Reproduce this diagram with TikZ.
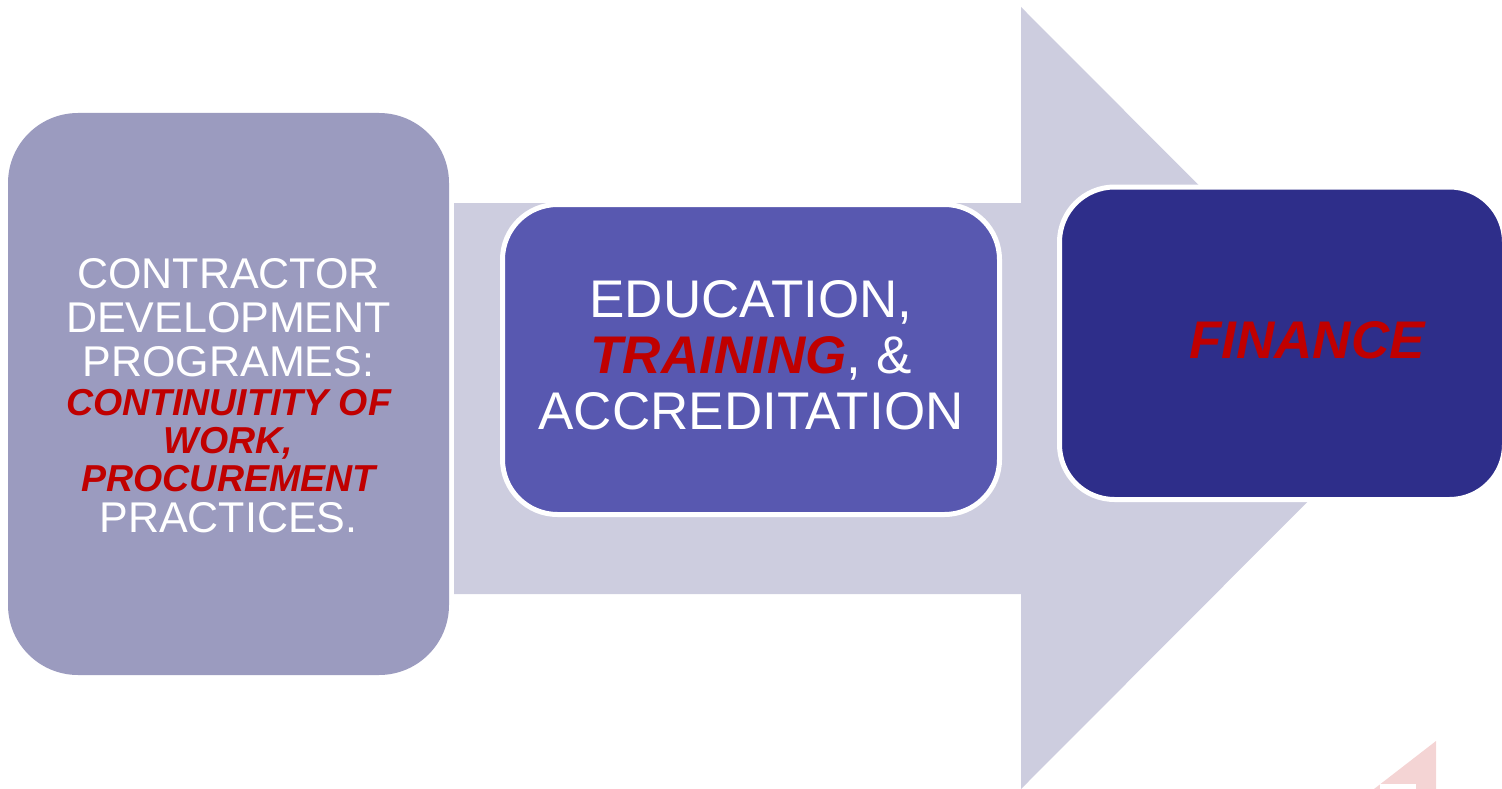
\documentclass[tikz,border=0pt]{standalone}
\usepackage{fontspec}
\setmainfont{Liberation Sans}
\definecolor{arrowc}{HTML}{CDCDDF}
\definecolor{boxa}{HTML}{9B9BBF}
\definecolor{boxb}{HTML}{5858B0}
\definecolor{boxc}{HTML}{2E2E8A}
\definecolor{redt}{HTML}{C00000}
\definecolor{pinkc}{HTML}{F4D4D4}
\newcommand{\redbi}{\color{redt}\bfseries\itshape}
\begin{document}
\begin{tikzpicture}[x=1pt,y=-1pt,
  stagebox/.style={rectangle, inner sep=0pt, line width=5pt},
  stagetext/.style={align=center, text=white, inner sep=0pt}]
\useasboundingbox (0,0) rectangle (1502,789);
% big arrow
\fill[arrowc] (454,203) -- (1021,203) -- (1021,7) -- (1411,398) -- (1021,789) -- (1021,594) -- (454,594) -- cycle;
% boxes
\node[stagebox, fill=boxa, draw=none, rounded corners=70pt, minimum width=441pt, minimum height=562pt] (boxA) at (228.5,394) {};
\node[stagebox, fill=boxb, draw=white, rounded corners=55pt, minimum width=497pt, minimum height=310pt] (boxB) at (751,359.5) {};
\node[stagebox, fill=boxc, draw=white, rounded corners=55pt, minimum width=445pt, minimum height=312.5pt] (boxC) at (1282,343.25) {};
% texts
\node[stagetext, font=\fontsize{43}{44}\selectfont] (textA) at (228.5,396)
  {CONTRACTOR\\DEVELOPMENT\\PROGRAMES:\\[-5pt]{\redbi\fontsize{37.5}{38}\selectfont CONTINUITITY OF}\\[-6pt]{\redbi\fontsize{37.5}{38}\selectfont WORK,}\\[-6pt]{\redbi\fontsize{37.5}{38}\selectfont PROCUREMENT}\\[-3pt]PRACTICES.};
\node[stagetext, font=\fontsize{53}{56}\selectfont] (textB) at (751,355)
  {EDUCATION,\\{\redbi TRAINING}, \&\\ACCREDITATION};
\node[stagetext, font=\fontsize{53}{60}\selectfont] (textC) at (1307,340) {\redbi FINANCE};
% pink corner mark
\fill[pinkc] (1436,741) -- (1436,789) -- (1374,789) -- cycle;
\fill[white] (1380,784) rectangle (1416,789);
\end{tikzpicture}
\end{document}
